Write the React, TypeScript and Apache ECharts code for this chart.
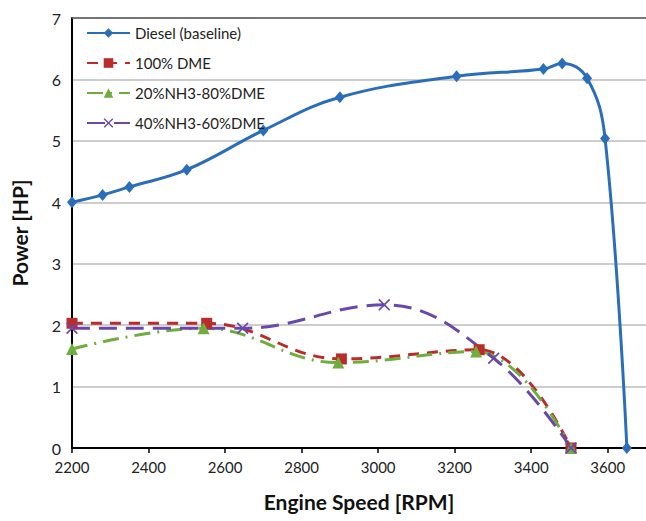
import React, { useEffect, useRef } from "react";
import * as echarts from "echarts";

const dieselRpm = [2200, 2280, 2350, 2500, 2700, 2900, 3205, 3432, 3481, 3546, 3593, 3650];
const dieselHp = [4.0, 4.12, 4.25, 4.53, 5.17, 5.71, 6.05, 6.17, 6.26, 6.02, 5.04, 0];

const dmeRpm = [2200, 2552, 2904, 3264, 3504];
const dmeHp = [2.03, 2.03, 1.45, 1.6, 0];

const nh20Rpm = [2200, 2544, 2896, 3256, 3504];
const nh20Hp = [1.61, 1.95, 1.39, 1.57, 0];

const nh40Rpm = [2200, 2646, 3016, 3302, 3504];
const nh40Hp = [1.95, 1.95, 2.33, 1.46, 0];

const seriesNames = ["Diesel (baseline)", "100% DME", "20%NH3-80%DME", "40%NH3-60%DME"];
const xTicks = [2200, 2400, 2600, 2800, 3000, 3200, 3400, 3600];

const BLUE = "#2A6EBB";
const RED = "#BC2B2B";
const GREEN = "#6FAE3E";
const PURPLE = "#6849AB";
const FONT = "Lato, 'Open Sans', sans-serif";

const pair = (xs: number[], ys: number[]) => xs.map((x, i) => [x, ys[i]]);

const CROSS = "path://M0,1 L1,0 L5,4 L9,0 L10,1 L6,5 L10,9 L9,10 L5,6 L1,10 L0,9 L4,5 Z";

export default function App() {
  const ref = useRef<HTMLDivElement>(null);
  useEffect(() => {
    if (!ref.current) return;
    const chart = echarts.init(ref.current, null, { renderer: "svg" });
    chart.setOption({
      animation: false,
      backgroundColor: "#ffffff",
      textStyle: { fontFamily: FONT },
      grid: { left: 72, right: 0, top: 18, bottom: 73, containLabel: false },
      legend: {
        orient: "vertical",
        left: 86,
        top: 24,
        padding: 0,
        itemWidth: 43,
        itemHeight: 12,
        itemGap: 12,
        textStyle: { fontFamily: FONT, fontSize: 15, color: "#222", lineHeight: 18 },
        data: seriesNames,
      },
      xAxis: [
        {
          type: "value",
          min: 2200,
          max: 3700,
          interval: 200,
          name: "Engine Speed [RPM]",
          nameLocation: "middle",
          nameGap: 43,
          nameTextStyle: { fontFamily: FONT, fontSize: 21, fontWeight: "bold", color: "#111" },
          axisLine: { show: true, lineStyle: { color: "#000", width: 2 } },
          axisTick: { show: true, inside: false, length: 5, lineStyle: { color: "#000", width: 1.5 }, customValues: xTicks },
          axisLabel: {
            margin: 11,
            fontSize: 15,
            color: "#222",
            fontFamily: FONT,
            customValues: xTicks,
            formatter: (v: number) => String(v),
          },
          splitLine: { show: false },
        },
        {
          type: "value",
          position: "top",
          min: 2200,
          max: 3700,
          axisLine: { show: true, onZero: false, lineStyle: { color: "#5a5a5a", width: 1.5 } },
          axisTick: { show: false },
          axisLabel: { show: false },
          splitLine: { show: false },
        },
      ],
      yAxis: {
        type: "value",
        min: 0,
        max: 7,
        interval: 1,
        name: "Power [HP]",
        nameLocation: "middle",
        nameGap: 42,
        nameRotate: 90,
        nameTextStyle: { fontFamily: FONT, fontSize: 21, fontWeight: "bold", color: "#111" },
        axisLine: { show: true, lineStyle: { color: "#000", width: 2 } },
        axisTick: { show: false },
        axisLabel: { margin: 11, fontSize: 16, color: "#222", fontFamily: FONT },
        splitLine: { show: true, lineStyle: { color: "#BDBDBD", width: 1.5 } },
      },
      series: [
        {
          name: seriesNames[0],
          type: "line",
          data: pair(dieselRpm, dieselHp),
          smooth: 0.4,
          symbol: "diamond",
          symbolSize: [10, 12],
          lineStyle: { color: BLUE, width: 3 },
          itemStyle: { color: BLUE },
        },
        {
          name: seriesNames[1],
          type: "line",
          data: pair(dmeRpm, dmeHp),
          smooth: 0.4,
          symbol: "rect",
          symbolSize: 11,
          lineStyle: { color: RED, width: 3, type: [11, 8] },
          itemStyle: { color: RED },
        },
        {
          name: seriesNames[2],
          type: "line",
          data: pair(nh20Rpm, nh20Hp),
          smooth: 0.4,
          symbol: "triangle",
          symbolSize: 12,
          lineStyle: { color: GREEN, width: 3, type: [16, 7, 2, 7] },
          itemStyle: { color: GREEN },
        },
        {
          name: seriesNames[3],
          type: "line",
          data: pair(nh40Rpm, nh40Hp),
          smooth: 0.4,
          symbol: CROSS,
          symbolSize: 12,
          lineStyle: { color: PURPLE, width: 3, type: [18, 9] },
          itemStyle: { color: PURPLE },
        },
      ],
    });
    return () => chart.dispose();
  }, []);
  return <div ref={ref} style={{ position: "fixed", left: 0, top: 0, width: 646, height: 521 }} />;
}
